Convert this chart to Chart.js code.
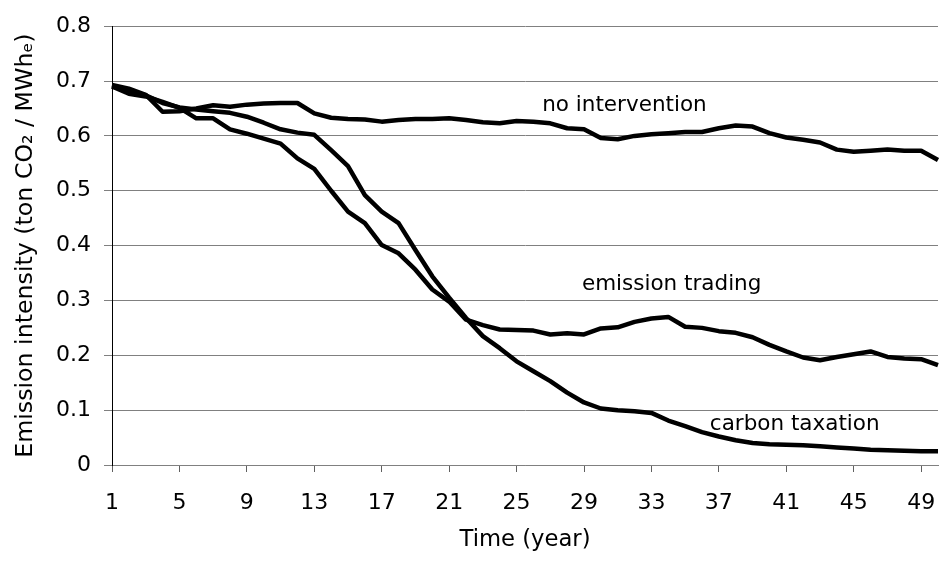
<!DOCTYPE html>
<html>
<head>
<meta charset="utf-8">
<title>Emission intensity</title>
<script src="https://cdn.jsdelivr.net/npm/chart.js@4.4.1/dist/chart.umd.min.js"></script>
<style>
    body { margin: 0; background: #ffffff; }
    #grafico { display: block; }
</style>
</head>
<body>
<canvas id="grafico" width="940" height="562"></canvas>
<script>
// Anos (categorias do eixo x)
const anos = [1, 2, 3, 4, 5, 6, 7, 8, 9, 10, 11, 12, 13, 14, 15, 16, 17, 18, 19, 20,
    21, 22, 23, 24, 25, 26, 27, 28, 29, 30, 31, 32, 33, 34, 35, 36, 37, 38, 39, 40,
    41, 42, 43, 44, 45, 46, 47, 48, 49, 50];

// Rotulos que aparecem no eixo x
const rotulosX = [1, 5, 9, 13, 17, 21, 25, 29, 33, 37, 41, 45, 49];

// Rotulos do eixo y
const rotulosY = [0, 0.1, 0.2, 0.3, 0.4, 0.5, 0.6, 0.7, 0.8];

const semIntervencao = [0.693, 0.686, 0.675, 0.644, 0.645, 0.650, 0.656, 0.653, 0.657, 0.659,
    0.660, 0.660, 0.641, 0.633, 0.631, 0.630, 0.626, 0.629, 0.631, 0.631,
    0.632, 0.629, 0.625, 0.623, 0.627, 0.626, 0.623, 0.614, 0.612, 0.596,
    0.594, 0.600, 0.603, 0.605, 0.607, 0.607, 0.614, 0.619, 0.617, 0.605,
    0.597, 0.593, 0.588, 0.575, 0.571, 0.573, 0.575, 0.573, 0.573, 0.556];

const comercioEmissoes = [0.690, 0.677, 0.672, 0.662, 0.651, 0.632, 0.632, 0.612, 0.604, 0.595,
    0.586, 0.559, 0.540, 0.500, 0.462, 0.441, 0.401, 0.386, 0.356, 0.320,
    0.298, 0.265, 0.255, 0.247, 0.246, 0.245, 0.238, 0.240, 0.238, 0.249,
    0.251, 0.261, 0.267, 0.270, 0.252, 0.250, 0.244, 0.241, 0.233, 0.219,
    0.207, 0.196, 0.191, 0.197, 0.202, 0.207, 0.197, 0.194, 0.193, 0.182];

const taxaCarbono = [0.690, 0.684, 0.674, 0.660, 0.652, 0.648, 0.645, 0.642, 0.635, 0.624,
    0.612, 0.606, 0.602, 0.574, 0.545, 0.492, 0.462, 0.441, 0.392, 0.344,
    0.305, 0.268, 0.235, 0.213, 0.189, 0.171, 0.153, 0.132, 0.114, 0.103,
    0.100, 0.098, 0.095, 0.081, 0.071, 0.060, 0.052, 0.045, 0.040, 0.038,
    0.037, 0.036, 0.034, 0.032, 0.030, 0.028, 0.027, 0.026, 0.025, 0.025];

// Textos dentro do grafico (ano, valor)
const textosSeries = [
    { texto: 'no intervention', ano: 31.4, valor: 0.655 },
    { texto: 'emission trading', ano: 34.2, valor: 0.330 },
    { texto: 'carbon taxation', ano: 41.5, valor: 0.074 }
];

const fonte = 'DejaVu Sans';

function serie(label, data) {
    return {
        label: label,
        data: data,
        borderColor: '#000000',
        backgroundColor: '#000000',
        borderWidth: 4.5,
        borderJoinStyle: 'round',
        pointRadius: 0,
        tension: 0,
        fill: false
    };
}

// Plugin para escrever o nome de cada curva
const pluginTextos = {
    id: 'textosSeries',
    afterDatasetsDraw(chart) {
        const ctx = chart.ctx;
        const x = chart.scales.x;
        const y = chart.scales.y;
        ctx.save();
        ctx.font = `21.5px "${fonte}"`;
        ctx.fillStyle = '#000000';
        ctx.textAlign = 'center';
        ctx.textBaseline = 'middle';
        textosSeries.forEach(function (t) {
            const px = x.getPixelForValue(t.ano - 1);
            const py = y.getPixelForValue(t.valor);
            ctx.fillText(t.texto, px, py);
        });
        ctx.restore();
    }
};

const config = {
    type: 'line',
    data: {
        labels: anos,
        datasets: [
            serie('no intervention', semIntervencao),
            serie('emission trading', comercioEmissoes),
            serie('carbon taxation', taxaCarbono)
        ]
    },
    options: {
        responsive: false,
        animation: false,
        devicePixelRatio: 1,
        layout: {
            padding: { top: 24, right: 2, left: 0, bottom: 0 }
        },
        plugins: {
            legend: { display: false },
            tooltip: { enabled: false }
        },
        scales: {
            x: {
                type: 'category',
                offset: false,
                afterFit: function (escala) {
                    escala.height = 97;
                    escala.paddingLeft = 0;
                    escala.paddingRight = 0;
                },
                grid: {
                    drawOnChartArea: false,
                    drawTicks: true,
                    tickLength: 7,
                    color: '#606060'
                },
                border: { color: '#808080', width: 1 },
                ticks: {
                    autoSkip: false,
                    maxRotation: 0,
                    padding: 18,
                    color: '#000000',
                    font: { family: fonte, size: 22 },
                    callback: function (valor, indice) {
                        const ano = anos[indice];
                        return rotulosX.includes(ano) ? String(ano) : null;
                    }
                },
                title: {
                    display: true,
                    text: 'Time (year)',
                    color: '#000000',
                    font: { family: fonte, size: 22.7 },
                    padding: { top: 0, bottom: 8 }
                }
            },
            y: {
                min: rotulosY[0],
                max: rotulosY[rotulosY.length - 1],
                afterFit: function (escala) { escala.width = 112; },
                afterBuildTicks: function (escala) {
                    escala.ticks = rotulosY.map(function (v) { return { value: v }; });
                },
                grid: {
                    color: '#808080',
                    tickLength: 8,
                    drawTicks: true
                },
                border: { color: '#000000', width: 1 },
                ticks: {
                    padding: 13,
                    color: '#000000',
                    font: { family: fonte, size: 22 },
                    callback: function (valor) {
                        return valor === 0 ? '0' : valor.toFixed(1);
                    }
                },
                title: {
                    display: true,
                    text: 'Emission intensity (ton CO\u2082 / MWh\u2091)',
                    color: '#000000',
                    font: { family: fonte, size: 23.7 },
                    padding: { top: 12, bottom: 0 }
                }
            }
        }
    },
    plugins: [pluginTextos]
};

let meuGrafico = new Chart(document.getElementById('grafico'), config);
</script>
</body>
</html>
